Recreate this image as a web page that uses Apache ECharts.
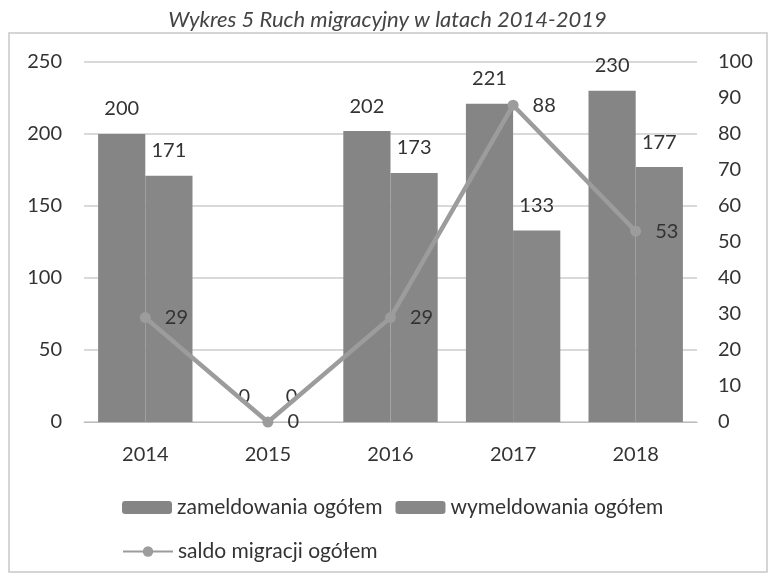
<!DOCTYPE html>
<html>
<head>
<meta charset="utf-8">
<script src="https://cdn.jsdelivr.net/npm/echarts@6/dist/echarts.min.js"></script>
<style>
	html, body { margin: 0; padding: 0; background: #fff; }
	#chart { width: 775px; height: 577px; }
</style>
</head>
<body>
<div id="chart"></div>
<script>
const years = ['2014', '2015', '2016', '2017', '2018']
const zameldowania = [200, 0, 202, 221, 230]
const wymeldowania = [171, 0, 173, 133, 177]
const saldo = [29, 0, 29, 88, 53]

const font = 'Lato, "Open Sans", sans-serif'
const textColor = '#333'

const chart = echarts.init(document.getElementById('chart'))
const option = {
	backgroundColor: '#fff',
	title: {
		text: 'Wykres 5 Ruch migracyjny w latach 2014-2019',
		left: 'center',
		top: 4,
		textStyle: {
			fontFamily: font,
			fontStyle: 'italic',
			fontWeight: 'normal',
			fontSize: 22,
			color: '#444'
		}
	},
	graphic: [
		{
			type: 'rect',
			shape: { x: 9, y: 33, width: 758, height: 539 },
			style: { fill: 'none', stroke: '#c8c8c8', lineWidth: 1.5 },
			silent: true
		}
	],
	grid: {
		left: 84,
		right: 78,
		top: 62,
		bottom: 155
	},
	legend: [
		{
			left: 117,
			top: 492,
			itemWidth: 50,
			itemHeight: 13,
			itemGap: 13,
			textStyle: { fontFamily: font, fontSize: 21, color: textColor },
			data: ['zameldowania ogółem', 'wymeldowania ogółem']
		},
		{
			left: 117,
			top: 536,
			itemWidth: 50,
			itemHeight: 13,
			textStyle: { fontFamily: font, fontSize: 21, color: textColor },
			data: ['saldo migracji ogółem']
		}
	],
	xAxis: {
		type: 'category',
		data: years,
		axisTick: { show: false },
		axisLine: { lineStyle: { color: '#bbb' } },
		axisLabel: { margin: 23, fontFamily: font, fontSize: 20, color: textColor }
	},
	yAxis: [
		{
			type: 'value',
			min: 0,
			max: 250,
			interval: 50,
			axisLine: { show: false },
			axisTick: { show: false },
			splitLine: { lineStyle: { color: '#cccccc', width: 1.5 } },
			axisLabel: { margin: 22, fontFamily: font, fontSize: 20, color: textColor }
		},
		{
			type: 'value',
			min: 0,
			max: 100,
			interval: 10,
			axisLine: { show: false },
			axisTick: { show: false },
			splitLine: { show: false },
			axisLabel: { margin: 21, fontFamily: font, fontSize: 20, color: textColor }
		}
	],
	series: [
		{
			name: 'zameldowania ogółem',
			type: 'bar',
			data: zameldowania,
			barGap: '0%',
			barCategoryGap: '23%',
			itemStyle: { color: '#858585' },
			label: {
				show: true,
				position: 'top',
				distance: 15,
				fontFamily: font,
				fontSize: 20,
				color: textColor
			}
		},
		{
			name: 'wymeldowania ogółem',
			type: 'bar',
			data: wymeldowania,
			itemStyle: { color: '#878787' },
			label: {
				show: true,
				position: 'top',
				distance: 15,
				fontFamily: font,
				fontSize: 20,
				color: textColor
			}
		},
		{
			name: 'saldo migracji ogółem',
			type: 'line',
			yAxisIndex: 1,
			data: saldo,
			symbol: 'circle',
			symbolSize: 11,
			lineStyle: { color: '#9c9c9c', width: 4.5 },
			itemStyle: { color: '#9c9c9c' },
			label: {
				show: true,
				position: 'right',
				distance: 14,
				fontFamily: font,
				fontSize: 20,
				color: textColor
			}
		}
	]
}
chart.setOption(option)
</script>
</body>
</html>
